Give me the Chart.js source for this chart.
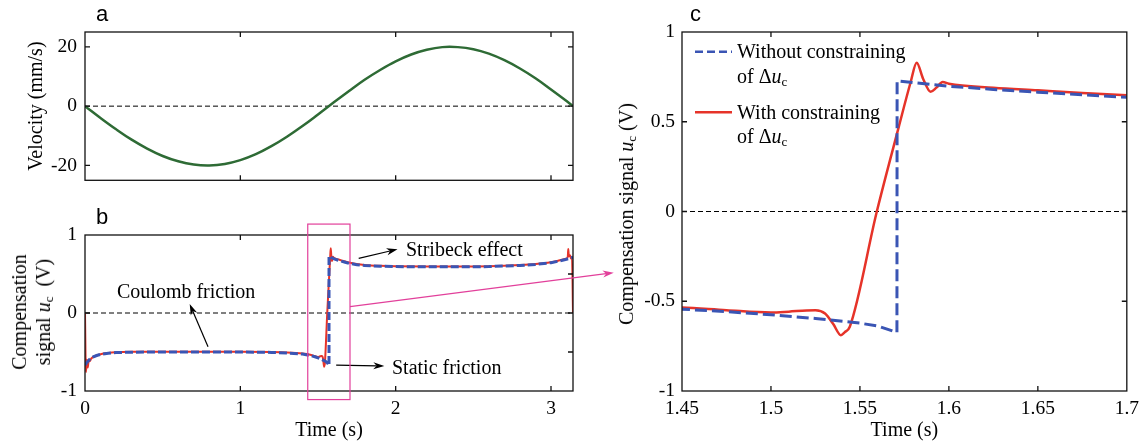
<!DOCTYPE html>
<html>
<head>
<meta charset="utf-8">
<script src="https://cdn.jsdelivr.net/npm/chart.js@4.4.1/dist/chart.umd.min.js"></script>
<style>
  body { margin: 0; width: 1145px; height: 445px; position: relative; overflow: hidden; background: #fff;
         font-family: "Liberation Serif", "Times New Roman", serif; color: #000; }
  canvas { position: absolute; }
  .txt { position: absolute; font-size: 20px; line-height: 24px; white-space: nowrap; }
  .panel { position: absolute; font-family: "Liberation Sans", Arial, sans-serif; font-size: 22px; line-height: 22px; }
  .ytitle { position: absolute; font-size: 20px; line-height: 24px; white-space: nowrap; text-align: center;
            transform: translate(-50%, -50%) rotate(-90deg); }
  sub { font-size: 13px; line-height: 0; vertical-align: -3px; }
</style>
</head>
<body>
<canvas id="velocity" width="580" height="200" style="left:0;top:0"></canvas>
<canvas id="signal" width="625" height="245" style="left:0;top:200px"></canvas>
<canvas id="zoom" width="565" height="445" style="left:580px;top:0"></canvas>

<div class="panel" style="left:96px;top:3px">a</div>
<div class="panel" style="left:96px;top:206px">b</div>
<div class="panel" style="left:690px;top:3px">c</div>

<div class="ytitle" style="left:31px;top:312px">Compensation<br>signal <i>u</i><sub>c</sub>&nbsp; (V)</div>
<div class="ytitle" style="left:626px;top:214px">Compensation signal <i>u</i><sub>c</sub> (V)</div>

<div class="txt" style="left:117px;top:279px">Coulomb friction</div>
<div class="txt" style="left:406px;top:237px">Stribeck effect</div>
<div class="txt" style="left:392px;top:355px">Static friction</div>

<div class="txt" style="left:737px;top:39px">Without constraining</div>
<div class="txt" style="left:737px;top:64px">of Δ<i>u</i><sub>c</sub></div>
<div class="txt" style="left:737px;top:100px">With constraining</div>
<div class="txt" style="left:737px;top:124px">of Δ<i>u</i><sub>c</sub></div>
<svg width="1145" height="445" style="position:absolute;left:0;top:0;pointer-events:none">
  <line x1="695" y1="51.7" x2="732" y2="51.7" stroke="#3a55b4" stroke-width="2.5" stroke-dasharray="8 4"/>
  <line x1="695" y1="112.3" x2="732" y2="112.3" stroke="#e63329" stroke-width="2.5"/>
</svg>

<script>
// panel a: velocity
const velocityTime = [0, 0.1, 0.2, 0.3, 0.4, 0.5, 0.6, 0.7, 0.8, 0.9, 1.0, 1.1, 1.2, 1.3, 1.4, 1.5, 1.6,
  1.7, 1.8, 1.9, 2.0, 2.1, 2.2, 2.3, 2.4, 2.5, 2.6, 2.7, 2.8, 2.9, 3.0, 3.1, 3.1416];
const velocity = [0, -4.0, -7.8, -11.3, -14.3, -16.8, -18.6, -19.7, -20.0, -19.5, -18.2, -16.2, -13.5,
  -10.3, -6.7, -2.8, 1.2, 5.1, 8.9, 12.2, 15.1, 17.4, 19.0, 19.9, 19.9, 19.2, 17.7, 15.5, 12.7, 9.4, 5.6, 1.7, 0];

// panels b and c: compensation signal
const timeWithout = [0, 0.01, 0.02, 0.035, 0.05, 0.075, 0.1, 0.15, 0.2, 0.3, 0.5, 0.8, 1.0, 1.2, 1.3, 1.4,
  1.45, 1.475, 1.5, 1.525, 1.55, 1.56, 1.5708, 1.5709, 1.58, 1.6, 1.625, 1.65, 1.675, 1.7, 1.75, 1.8, 1.9,
  2.0, 2.2, 2.4, 2.6, 2.8, 2.9, 3.0, 3.05, 3.1, 3.1416];
const uWithout = [-0.667, -0.64, -0.615, -0.585, -0.565, -0.545, -0.53, -0.515, -0.507, -0.502, -0.5, -0.5,
  -0.5, -0.505, -0.512, -0.527, -0.544, -0.558, -0.575, -0.596, -0.622, -0.638, -0.674, 0.728, 0.718, 0.698,
  0.68, 0.665, 0.65, 0.636, 0.62, 0.61, 0.6, 0.595, 0.592, 0.592, 0.595, 0.61, 0.622, 0.645, 0.665, 0.69, 0.714];

const timeWith = [0, 0.006, 0.012, 0.018, 0.024, 0.03, 0.04, 0.05, 0.075, 0.1, 0.15, 0.2, 0.3, 0.5, 0.8,
  1.0, 1.2, 1.3, 1.4, 1.45, 1.475, 1.5, 1.51, 1.52, 1.525, 1.5304, 1.535, 1.5393, 1.5415, 1.5443, 1.5595,
  1.5718, 1.5785, 1.5819, 1.5855, 1.5897, 1.593, 1.5965, 1.6, 1.625, 1.65, 1.675, 1.7, 1.75, 1.8, 1.9, 2.0,
  2.2, 2.4, 2.6, 2.8, 2.9, 3.0, 3.05, 3.1, 3.108, 3.111, 3.115, 3.122, 3.128, 3.135, 3.1416];
const uWith = [0, -0.76, -0.6, -0.7, -0.6, -0.62, -0.585, -0.568, -0.545, -0.528, -0.512, -0.504, -0.498,
  -0.496, -0.496, -0.496, -0.5, -0.506, -0.52, -0.535, -0.55, -0.563, -0.558, -0.551, -0.55, -0.568, -0.627,
  -0.689, -0.672, -0.642, 0.0, 0.47, 0.72, 0.829, 0.74, 0.667, 0.69, 0.722, 0.712, 0.69, 0.675, 0.66, 0.648,
  0.628, 0.616, 0.605, 0.6, 0.597, 0.597, 0.6, 0.615, 0.628, 0.652, 0.672, 0.698, 0.72, 0.82, 0.73, 0.74,
  0.7, 0.72, 0];

// tick labels
const timeTicks = [0, 1, 2, 3];
const velocityTicks = [-20, 0, 20];
const signalTicks = [-1, 0, 1];
const zoomTimeTicks = [1.45, 1.5, 1.55, 1.6, 1.65, 1.7];
const zoomSignalTicks = [-1, -0.5, 0, 0.5, 1];

const GREEN = "#2e6b35";
const BLUE = "#3a55b4";
const RED = "#e63329";
const MAGENTA = "#e2409b";

// annotations of panel b, in (time, signal) units
const bArrows = [
  { from: [0.792, -0.432], to: [0.674, 0.115], color: "#000" },
  { from: [1.762, 0.701], to: [2.012, 0.817], color: "#000" },
  { from: [1.617, -0.667], to: [1.927, -0.679], color: "#000" },
  { from: [1.706, 0.081], to: [3.404, 0.517], color: MAGENTA },
];
const zoomBox = { t0: 1.434, t1: 1.706, v0: -1.11, v1: 1.14 };

Chart.defaults.font.family = '"Liberation Serif", "Times New Roman", serif';
Chart.defaults.font.size = 19.5;
Chart.defaults.color = "#000";

const toPoints = (xs, ys) => xs.map((x, i) => ({ x, y: ys[i] }));
const fixedTicks = (values) => (scale) => {
  scale.ticks = values.map((value) => ({ value }));
};

const drawArrow = (ctx, x1, y1, x2, y2, color) => {
  const a = Math.atan2(y2 - y1, x2 - x1);
  const head = 11, wing = 3.5;
  const c = Math.cos(a), s = Math.sin(a);
  ctx.strokeStyle = color;
  ctx.fillStyle = color;
  ctx.lineWidth = 1.2;
  ctx.beginPath();
  ctx.moveTo(x1, y1);
  ctx.lineTo(x2 - head * 0.7 * c, y2 - head * 0.7 * s);
  ctx.stroke();
  ctx.beginPath();
  ctx.moveTo(x2, y2);
  ctx.lineTo(x2 - head * c + wing * s, y2 - head * s - wing * c);
  ctx.lineTo(x2 - head * 0.7 * c, y2 - head * 0.7 * s);
  ctx.lineTo(x2 - head * c - wing * s, y2 - head * s + wing * c);
  ctx.closePath();
  ctx.fill();
};

// box, inward ticks and the dashed zero line
const framePlugin = {
  id: "frame",
  beforeDatasetsDraw(chart) {
    const { ctx, chartArea, scales } = chart;
    const y0 = scales.y.getPixelForValue(0);
    ctx.save();
    ctx.strokeStyle = "#000";
    ctx.lineWidth = 1;
    ctx.setLineDash([5, 3]);
    ctx.beginPath();
    ctx.moveTo(chartArea.left, y0);
    ctx.lineTo(chartArea.right, y0);
    ctx.stroke();
    ctx.restore();
  },
  afterDatasetsDraw(chart, args, opts) {
    const { ctx, chartArea: { left, right, top, bottom }, scales: { x, y } } = chart;
    ctx.save();
    ctx.strokeStyle = "#111";
    ctx.lineWidth = 1.3;
    ctx.strokeRect(left, top, right - left, bottom - top);
    ctx.beginPath();
    x.ticks.forEach(({ value }) => {
      const px = x.getPixelForValue(value);
      if (px <= left + 1 || px >= right - 1) return;
      ctx.moveTo(px, bottom); ctx.lineTo(px, bottom - 5);
      ctx.moveTo(px, top); ctx.lineTo(px, top + 5);
    });
    y.ticks.forEach(({ value }) => {
      const py = y.getPixelForValue(value);
      if (py <= top + 1 || py >= bottom - 1) return;
      ctx.moveTo(left, py); ctx.lineTo(left + 5, py);
      ctx.moveTo(right, py); ctx.lineTo(right - 5, py);
    });
    (opts.rightMarks || []).forEach((value) => {
      const py = y.getPixelForValue(value);
      ctx.moveTo(right, py); ctx.lineTo(right - 5, py);
    });
    ctx.stroke();
    ctx.restore();
  },
};

const notesPlugin = {
  id: "notes",
  afterDraw(chart) {
    const { ctx, scales: { x, y } } = chart;
    ctx.save();
    bArrows.forEach((a) =>
      drawArrow(ctx, x.getPixelForValue(a.from[0]), y.getPixelForValue(a.from[1]),
        x.getPixelForValue(a.to[0]), y.getPixelForValue(a.to[1]), a.color)
    );
    const bx0 = x.getPixelForValue(zoomBox.t0), bx1 = x.getPixelForValue(zoomBox.t1);
    const by0 = y.getPixelForValue(zoomBox.v1), by1 = y.getPixelForValue(zoomBox.v0);
    ctx.strokeStyle = MAGENTA;
    ctx.lineWidth = 1.2;
    ctx.strokeRect(bx0, by0, bx1 - bx0, by1 - by0);
    ctx.restore();
  },
};

const hidden = { display: false, drawTicks: false };
const baseOptions = (padding) => ({
  responsive: false,
  animation: false,
  devicePixelRatio: 1,
  layout: { padding },
  plugins: { legend: { display: false }, tooltip: { enabled: false } },
});

// a
new Chart("velocity", {
  type: "line",
  data: {
    datasets: [{
      data: toPoints(velocityTime, velocity),
      borderColor: GREEN, borderWidth: 2.5, pointRadius: 0, tension: 0.4,
    }],
  },
  options: {
    ...baseOptions({ top: 32, right: 7, left: 0, bottom: 0 }),
    scales: {
      x: {
        type: "linear", min: 0, max: 3.1416,
        afterBuildTicks: fixedTicks(timeTicks),
        afterFit: (s) => { s.height = 12; },
        ticks: { display: false }, grid: hidden, border: { display: false },
      },
      y: {
        min: -25, max: 25,
        afterBuildTicks: fixedTicks(velocityTicks),
        afterFit: (s) => { s.width = 85; },
        ticks: { padding: 8, callback: (v) => String(v) },
        grid: hidden, border: { display: false },
        title: { display: true, text: "Velocity (mm/s)", font: { size: 20 }, padding: { top: 25, bottom: 0 } },
      },
    },
  },
  plugins: [framePlugin],
});

// b
const signalDatasets = (dash, blueWidth, redWidth) => [
  {
    data: toPoints(timeWithout, uWithout),
    borderColor: BLUE, borderWidth: blueWidth, borderDash: dash, pointRadius: 0, tension: 0,
  },
  {
    data: toPoints(timeWith, uWith),
    borderColor: RED, borderWidth: redWidth, pointRadius: 0, cubicInterpolationMode: "monotone",
  },
];

new Chart("signal", {
  type: "line",
  data: { datasets: signalDatasets([8, 3], 3, 2) },
  options: {
    ...baseOptions({ top: 35, right: 52, left: 0, bottom: 0 }),
    plugins: { legend: { display: false }, tooltip: { enabled: false }, frame: { rightMarks: [-0.5, 0.5] } },
    scales: {
      x: {
        type: "linear", min: 0, max: 3.1416,
        afterBuildTicks: fixedTicks(timeTicks),
        afterFit: (s) => { s.height = 54; },
        ticks: { padding: 6, autoSkip: false, maxRotation: 0, callback: (v) => String(v) },
        grid: hidden, border: { display: false },
        title: { display: true, text: "Time (s)", font: { size: 20 }, padding: { top: 0, bottom: 2 } },
      },
      y: {
        min: -1, max: 1,
        afterBuildTicks: fixedTicks(signalTicks),
        afterFit: (s) => { s.width = 85; },
        ticks: { padding: 8, callback: (v) => String(v) },
        grid: hidden, border: { display: false },
      },
    },
  },
  plugins: [framePlugin, notesPlugin],
});

// c
new Chart("zoom", {
  type: "line",
  data: { datasets: signalDatasets([12, 5], 3, 2.5) },
  options: {
    ...baseOptions({ top: 32, right: 8, left: 0, bottom: 0 }),
    scales: {
      x: {
        type: "linear", min: 1.45, max: 1.7,
        afterBuildTicks: fixedTicks(zoomTimeTicks),
        afterFit: (s) => { s.height = 54; },
        ticks: { padding: 6, autoSkip: false, maxRotation: 0, callback: (v) => String(v) },
        grid: hidden, border: { display: false },
        title: { display: true, text: "Time (s)", font: { size: 20 }, padding: { top: 0, bottom: 2 } },
      },
      y: {
        min: -1, max: 1,
        afterBuildTicks: fixedTicks(zoomSignalTicks),
        afterFit: (s) => { s.width = 102; },
        ticks: { padding: 7, callback: (v) => String(v) },
        grid: hidden, border: { display: false },
      },
    },
  },
  plugins: [framePlugin],
});
</script>
</body>
</html>
